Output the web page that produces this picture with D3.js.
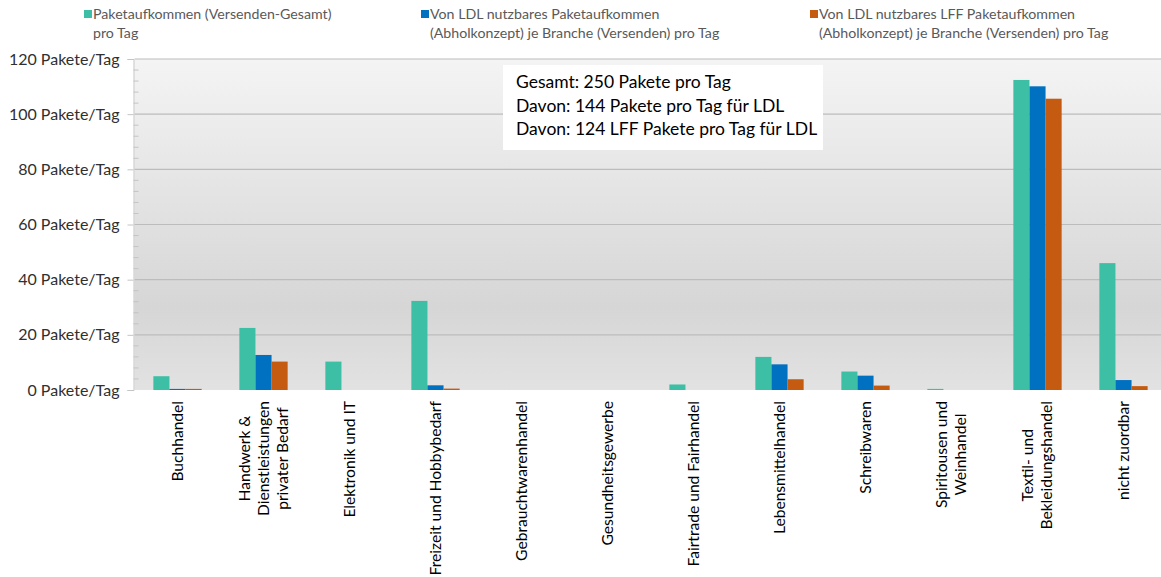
<!DOCTYPE html>
<html><head><meta charset="utf-8">
<script src="https://cdn.jsdelivr.net/npm/d3@7"></script>
<style>body{margin:0;background:#fff;overflow:hidden;} text{font-family:Lato, "Open Sans", sans-serif;}</style>
</head><body>
<svg id="c" width="1161" height="577"></svg>
<script>
const categories = [
  ["Buchhandel"],
  ["Handwerk &","Dienstleistungen","privater Bedarf"],
  ["Elektronik und IT"],
  ["Freizeit und Hobbybedarf"],
  ["Gebrauchtwarenhandel"],
  ["Gesundheitsgewerbe"],
  ["Fairtrade und Fairhandel"],
  ["Lebensmittelhandel"],
  ["Schreibwaren"],
  ["Spiritousen und","Weinhandel"],
  ["Textil- und","Bekleidungshandel"],
  ["nicht zuordbar"]
];
const seriesNames = [
  ["Paketaufkommen (Versenden-Gesamt)","pro Tag"],
  ["Von LDL nutzbares Paketaufkommen","(Abholkonzept) je Branche (Versenden) pro Tag"],
  ["Von LDL nutzbares LFF Paketaufkommen","(Abholkonzept) je Branche (Versenden) pro Tag"]
];
const gesamt = [5.0, 22.5, 10.3, 32.3, 0, 0, 2.0, 12.0, 6.7, 0.4, 112.4, 46.0];
const ldl    = [0.4, 12.7, 0, 1.7, 0, 0, 0, 9.3, 5.2, 0, 110.1, 3.6];
const lff    = [0.4, 10.3, 0, 0.5, 0, 0, 0, 3.9, 1.6, 0, 105.6, 1.4];
const yTicks = [0, 20, 40, 60, 80, 100, 120];
const annotation = ["Gesamt: 250 Pakete pro Tag","Davon: 144 Pakete pro Tag für LDL","Davon: 124 LFF Pakete pro Tag für LDL"];
const colors = ["#3dbfa5", "#0070c0", "#c55a11"];

const svg = d3.select("#c");
const L = 134.5, R = 1166.5, T = 59, B = 390;
const x = d3.scaleBand().domain(d3.range(categories.length)).range([L, R]).paddingInner(0).paddingOuter(0);
const y = d3.scaleLinear().domain([0, 120]).range([B, T]);
const inner = d3.scaleBand().domain([0,1,2]).range([0, 48.3]);

// background gradient
const defs = svg.append("defs");
const g = defs.append("linearGradient").attr("id","bg").attr("x1",0).attr("y1",0).attr("x2",0).attr("y2",1);
g.append("stop").attr("offset","0%").attr("stop-color","#f4f4f4");
g.append("stop").attr("offset","75%").attr("stop-color","#d6d6d6");
g.append("stop").attr("offset","100%").attr("stop-color","#e2e2e2");
svg.append("rect").attr("x",L).attr("y",T).attr("width",R-L).attr("height",B-T).attr("fill","url(#bg)");

// gridlines
svg.append("g").selectAll("line").data(yTicks.slice(1)).join("line")
  .attr("x1",L).attr("x2",R).attr("y1",d=>y(d)).attr("y2",d=>y(d))
  .attr("stroke","#bcbcbc").attr("stroke-width",1.2);

// y axis
const yAxis = d3.axisLeft(y).tickValues(yTicks).tickSize(6).tickPadding(8).tickFormat(d => d + " Pakete/Tag");
const ya = svg.append("g").attr("transform",`translate(${L-1},0)`).call(yAxis);
ya.select(".domain").attr("stroke","#c4c4c4");
ya.selectAll(".tick line").attr("stroke","#c4c4c4");
ya.selectAll(".tick text").attr("font-size","16px").attr("fill","#303030").style("font-family","Lato");
// minor ticks
const minor = d3.range(0, 121, 4).filter(v => v % 20 !== 0);
svg.append("g").selectAll("line").data(minor).join("line")
  .attr("x1",L-1).attr("x2",L+4).attr("y1",d=>y(d)).attr("y2",d=>y(d))
  .attr("stroke","#c4c4c4");

// bars
const series = [gesamt, ldl, lff];
series.forEach((vals, s) => {
  svg.append("g").selectAll("rect").data(vals).join("rect")
    .attr("x",(d,i)=> x(i) + x.bandwidth()/2 - 24.15 + inner(s))
    .attr("width", inner.bandwidth())
    .attr("y", d => y(d))
    .attr("height", d => B - y(d))
    .attr("fill", colors[s]);
});

// category labels
const cl = svg.append("g");
const fs = "15.6px";
categories.forEach((lines, i) => {
  const cx = x(i) + x.bandwidth()/2;
  const n = lines.length;
  const lh = 19;
  const lens = lines.map(ln => {
    const t = cl.append("text").attr("font-size",fs).text(ln);
    const w = t.node().getComputedTextLength();
    t.remove();
    return w;
  });
  const maxLen = d3.max(lens);
  const cy = 401 + maxLen/2;
  lines.forEach((ln, k) => {
    const off = (k - (n-1)/2) * lh;
    cl.append("text").attr("font-size",fs).attr("fill","#000")
      .attr("text-anchor","middle")
      .attr("transform",`translate(${cx + off + 5},${cy}) rotate(-90)`)
      .text(ln);
  });
});

// annotation box
svg.append("rect").attr("x",503).attr("y",65).attr("width",320).attr("height",85).attr("fill","#fff");
svg.append("g").selectAll("text").data(annotation).join("text")
  .attr("x",516).attr("y",(d,i)=>88 + i*23.5)
  .attr("font-size","17.5px").attr("fill","#000").text(d=>d);

// legend
const lx = [84, 421, 810];
seriesNames.forEach((lines, s) => {
  svg.append("rect").attr("x",lx[s]).attr("y",10).attr("width",8).attr("height",8).attr("fill",colors[s]);
  lines.forEach((ln,k) => {
    svg.append("text").attr("x",lx[s]+9).attr("y",19 + k*19)
      .attr("font-size","14.2px").attr("fill","#595959").text(ln);
  });
});
</script>
</body></html>
